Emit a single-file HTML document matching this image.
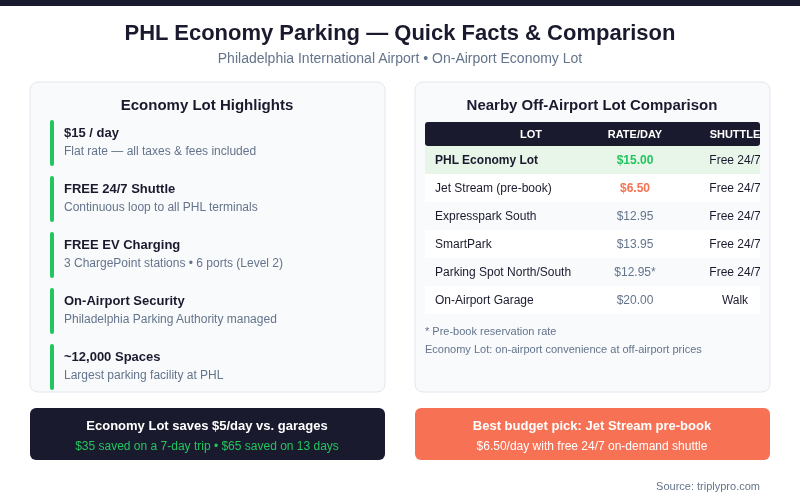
<!DOCTYPE html>
<html><head><meta charset="utf-8">
<style>
html,body{margin:0;padding:0;background:#fff;}
svg{display:block;font-family:"Liberation Sans",Arial,Helvetica,sans-serif;}
.b{font-weight:bold}
</style></head><body>
<svg width="800" height="500" viewBox="0 0 800 500">
<rect width="800" height="500" fill="#ffffff"/>
<rect width="800" height="6" fill="#1a1a2e"/>
<text x="400" y="40" text-anchor="middle" class="b" font-size="22" fill="#1a1a2e">PHL Economy Parking — Quick Facts &amp; Comparison</text>
<text x="400" y="63" text-anchor="middle" font-size="14" fill="#64748b">Philadelphia International Airport • On-Airport Economy Lot</text>

<!-- left card -->
<rect x="30" y="82" width="355" height="310" rx="8" fill="#f8fafc" stroke="#e2e8f0"/>
<text x="207" y="110" text-anchor="middle" class="b" font-size="15" fill="#1a1a2e">Economy Lot Highlights</text>
<g>
<rect x="50" y="120" width="4" height="46" rx="2" fill="#22c55e"/>
<text x="64" y="137" class="b" font-size="13" fill="#1a1a2e">$15 / day</text>
<text x="64" y="155" font-size="12" fill="#64748b">Flat rate — all taxes &amp; fees included</text>
</g>
<g transform="translate(0,56)">
<rect x="50" y="120" width="4" height="46" rx="2" fill="#22c55e"/>
<text x="64" y="137" class="b" font-size="13" fill="#1a1a2e">FREE 24/7 Shuttle</text>
<text x="64" y="155" font-size="12" fill="#64748b">Continuous loop to all PHL terminals</text>
</g>
<g transform="translate(0,112)">
<rect x="50" y="120" width="4" height="46" rx="2" fill="#22c55e"/>
<text x="64" y="137" class="b" font-size="13" fill="#1a1a2e">FREE EV Charging</text>
<text x="64" y="155" font-size="12" fill="#64748b">3 ChargePoint stations • 6 ports (Level 2)</text>
</g>
<g transform="translate(0,168)">
<rect x="50" y="120" width="4" height="46" rx="2" fill="#22c55e"/>
<text x="64" y="137" class="b" font-size="13" fill="#1a1a2e">On-Airport Security</text>
<text x="64" y="155" font-size="12" fill="#64748b">Philadelphia Parking Authority managed</text>
</g>
<g transform="translate(0,224)">
<rect x="50" y="120" width="4" height="46" rx="2" fill="#22c55e"/>
<text x="64" y="137" class="b" font-size="13" fill="#1a1a2e">~12,000 Spaces</text>
<text x="64" y="155" font-size="12" fill="#64748b">Largest parking facility at PHL</text>
</g>

<!-- right card -->
<rect x="415" y="82" width="355" height="310" rx="8" fill="#f8fafc" stroke="#e2e8f0"/>
<text x="592" y="110" text-anchor="middle" class="b" font-size="15" fill="#1a1a2e">Nearby Off-Airport Lot Comparison</text>
<defs><clipPath id="tc"><rect x="425" y="120" width="335" height="200"/></clipPath></defs>
<g clip-path="url(#tc)">
<rect x="425" y="122" width="335" height="24" rx="3" fill="#1a1a2e"/>
<rect x="425" y="146" width="335" height="28" fill="#e8f5e9"/>
<rect x="425" y="174" width="335" height="28" fill="#ffffff"/>
<rect x="425" y="202" width="335" height="28" fill="#f8fafc"/>
<rect x="425" y="230" width="335" height="28" fill="#ffffff"/>
<rect x="425" y="258" width="335" height="28" fill="#f8fafc"/>
<rect x="425" y="286" width="335" height="28" fill="#ffffff"/>
<g font-size="11" class="b" fill="#ffffff" text-anchor="middle">
<text x="531" y="138">LOT</text><text x="635" y="138">RATE/DAY</text><text x="735" y="138">SHUTTLE</text>
</g>
<g font-size="12" fill="#1a1a2e">
<text x="435" y="164" class="b">PHL Economy Lot</text>
<text x="435" y="192">Jet Stream (pre-book)</text>
<text x="435" y="220">Expresspark South</text>
<text x="435" y="248">SmartPark</text>
<text x="435" y="276">Parking Spot North/South</text>
<text x="435" y="304">On-Airport Garage</text>
</g>
<g font-size="12" text-anchor="middle" fill="#64748b">
<text x="635" y="164" class="b" fill="#22c55e">$15.00</text>
<text x="635" y="192" class="b" fill="#f77255">$6.50</text>
<text x="635" y="220">$12.95</text>
<text x="635" y="248">$13.95</text>
<text x="635" y="276">$12.95*</text>
<text x="635" y="304">$20.00</text>
</g>
<g font-size="12" text-anchor="middle" fill="#1a1a2e">
<text x="735" y="164">Free 24/7</text>
<text x="735" y="192">Free 24/7</text>
<text x="735" y="220">Free 24/7</text>
<text x="735" y="248">Free 24/7</text>
<text x="735" y="276">Free 24/7</text>
<text x="735" y="304">Walk</text>
</g>
</g>
<text x="425" y="335" font-size="11" fill="#64748b">* Pre-book reservation rate</text>
<text x="425" y="353" font-size="11" fill="#64748b">Economy Lot: on-airport convenience at off-airport prices</text>

<!-- bottom boxes -->
<rect x="30" y="408" width="355" height="52" rx="6" fill="#1a1a2e"/>
<text x="207" y="430" text-anchor="middle" class="b" font-size="13" fill="#ffffff">Economy Lot saves $5/day vs. garages</text>
<text x="207" y="450" text-anchor="middle" font-size="12" fill="#22c55e">$35 saved on a 7-day trip • $65 saved on 13 days</text>
<rect x="415" y="408" width="355" height="52" rx="6" fill="#f77255"/>
<text x="592" y="430" text-anchor="middle" class="b" font-size="13" fill="#ffffff">Best budget pick: Jet Stream pre-book</text>
<text x="592" y="450" text-anchor="middle" font-size="12" fill="#ffffff">$6.50/day with free 24/7 on-demand shuttle</text>
<text x="760" y="490" text-anchor="end" font-size="11" fill="#64748b">Source: triplypro.com</text>
</svg>
</body></html>
